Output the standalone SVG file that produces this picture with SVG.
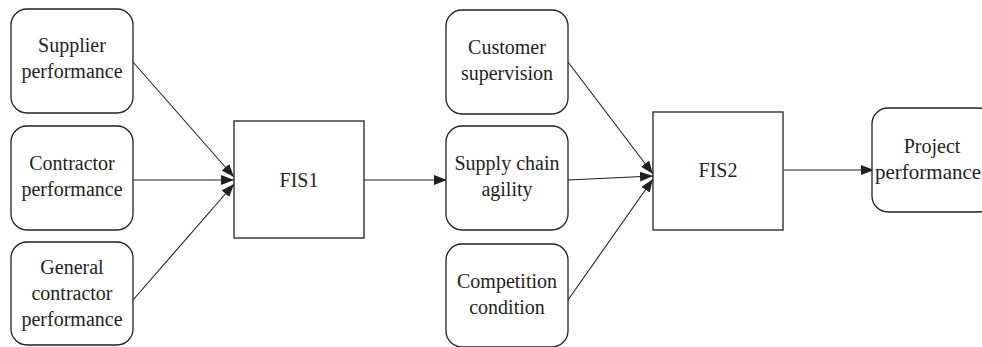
<svg xmlns="http://www.w3.org/2000/svg" width="982" height="347" viewBox="0 0 982 347">
  <defs>
    <marker id="arrow" markerUnits="userSpaceOnUse" markerWidth="14" markerHeight="12" refX="13" refY="5" orient="auto">
      <path d="M0,0 L13,5 L0,10 Z" fill="#231f20"/>
    </marker>
  </defs>
  <style>
    .box { fill: #ffffff; stroke: #231f20; stroke-width: 1.3; }
    .lbl { font-family: "Liberation Serif", "Times New Roman", serif; font-size: 20px; fill: #231f20; text-anchor: middle; }
    .lbl.start { text-anchor: start; font-size: 21px; }
    .edge { stroke: #231f20; stroke-width: 1.1; fill: none; marker-end: url(#arrow); }
  </style>
  <rect width="982" height="347" fill="#ffffff"/>

  <g id="connectors">
    <line class="edge" x1="133" y1="62" x2="234" y2="177"/>
    <line class="edge" x1="133" y1="180" x2="234" y2="180"/>
    <line class="edge" x1="133" y1="300" x2="234" y2="184"/>
    <line class="edge" x1="364" y1="180" x2="447" y2="180"/>
    <line class="edge" x1="568" y1="62" x2="653" y2="174"/>
    <line class="edge" x1="568" y1="180" x2="653" y2="176"/>
    <line class="edge" x1="568" y1="300" x2="653" y2="179"/>
    <line class="edge" x1="784" y1="170" x2="874" y2="170"/>
  </g>

  <g id="supplier">
    <rect class="box" x="11" y="9" width="122" height="104" rx="16"/>
    <text class="lbl" x="72" y="52">Supplier</text>
    <text class="lbl" x="72" y="78">performance</text>
  </g>
  <g id="contractor">
    <rect class="box" x="11" y="126" width="122" height="104" rx="16"/>
    <text class="lbl" x="72" y="170">Contractor</text>
    <text class="lbl" x="72" y="196">performance</text>
  </g>
  <g id="general-contractor">
    <rect class="box" x="11" y="242" width="122" height="103" rx="16"/>
    <text class="lbl" x="72" y="274">General</text>
    <text class="lbl" x="72" y="300">contractor</text>
    <text class="lbl" x="72" y="326">performance</text>
  </g>
  <g id="fis1">
    <rect class="box" x="234" y="121" width="130" height="117"/>
    <text class="lbl" x="299" y="187">FIS1</text>
  </g>
  <g id="customer">
    <rect class="box" x="446" y="10" width="122" height="104" rx="16"/>
    <text class="lbl" x="507" y="54">Customer</text>
    <text class="lbl" x="507" y="80">supervision</text>
  </g>
  <g id="supply-chain">
    <rect class="box" x="446" y="126" width="122" height="104" rx="16"/>
    <text class="lbl" x="507" y="170">Supply chain</text>
    <text class="lbl" x="507" y="196">agility</text>
  </g>
  <g id="competition">
    <rect class="box" x="446" y="244" width="122" height="103" rx="16"/>
    <text class="lbl" x="507" y="288">Competition</text>
    <text class="lbl" x="507" y="314">condition</text>
  </g>
  <g id="fis2">
    <rect class="box" x="653" y="112" width="130" height="118"/>
    <text class="lbl" x="718" y="177">FIS2</text>
  </g>
  <g id="project">
    <rect class="box" x="872" y="108" width="122" height="104" rx="16"/>
    <text class="lbl" x="932" y="153">Project</text>
    <text class="lbl start" x="875" y="179">performance</text>
  </g>
</svg>
